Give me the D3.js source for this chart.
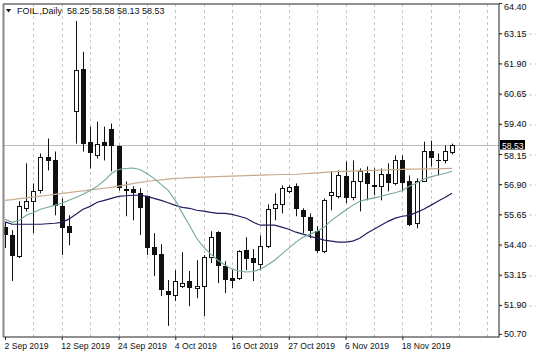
<!DOCTYPE html>
<html><head><meta charset="utf-8">
<script src="https://cdn.jsdelivr.net/npm/d3@7"></script>
<style>
html,body{margin:0;padding:0;background:#fff;overflow:hidden}
svg{display:block}
text{font-family:"Liberation Sans",Arial,sans-serif}
</style>
</head><body>
<svg id="chart" width="536" height="358"></svg>
<script>
// ---- data ----
const symbolTitle = "FOIL.,Daily";
const lastBarText = "58.25 58.58 58.13 58.53";
const lastPrice = 58.53;

const open = [55.12,54.79,53.92,55.90,56.19,56.64,58.04,57.88,55.98,55.16,59.94,61.68,58.66,58.09,58.66,59.20,58.46,56.68,56.68,56.52,56.39,54.29,54.00,52.47,52.31,52.68,52.89,52.60,52.68,53.88,54.91,53.51,53.01,53.01,54.16,53.84,53.59,54.33,55.90,56.06,56.60,56.81,55.82,55.53,54.95,54.12,56.44,56.39,57.22,56.35,57.05,57.38,56.85,56.81,57.34,56.93,57.92,57.01,55.28,57.05,58.29,57.88,57.88,58.25];
const high = [55.32,54.99,56.19,57.76,56.93,58.17,58.79,58.25,56.31,55.61,63.66,62.38,59.28,59.49,59.28,59.41,58.50,57.01,56.81,56.73,56.43,54.87,54.41,52.93,53.34,54.08,53.30,53.75,53.96,54.95,54.95,53.71,53.34,54.16,54.70,54.21,54.78,56.06,56.52,56.85,56.85,56.93,55.90,55.69,55.16,56.31,57.43,57.47,57.84,57.88,57.55,57.63,57.55,57.55,57.76,58.09,58.09,57.26,57.14,58.66,58.70,58.17,58.50,58.58];
const low = [54.25,52.89,53.84,55.77,54.87,56.52,57.47,55.61,53.96,54.37,58.58,58.25,57.55,57.96,57.88,57.43,56.64,55.57,55.40,54.79,53.96,53.09,52.27,51.03,52.06,52.60,51.85,52.18,51.44,53.63,52.80,52.39,52.60,52.93,53.34,52.89,53.34,54.25,55.40,55.69,56.52,55.57,54.87,54.66,54.04,54.04,55.82,56.31,56.11,56.23,55.77,56.23,56.44,56.23,56.60,56.85,56.60,55.16,55.07,57.01,57.63,57.26,57.76,58.13];
const close = [54.79,53.92,55.98,56.19,56.60,58.04,57.84,55.98,55.07,54.87,61.61,58.58,58.17,58.58,58.50,58.50,56.72,56.60,56.52,55.90,54.25,53.96,52.52,52.31,52.89,52.80,52.60,52.68,53.88,54.70,53.51,52.93,52.89,54.12,53.79,53.63,54.33,55.86,56.06,56.72,56.77,55.86,55.53,54.95,54.12,56.23,56.56,57.26,56.31,57.05,57.43,56.89,56.77,57.34,56.93,57.88,56.93,55.20,57.05,58.29,58.00,57.84,58.29,58.53];

// moving averages (values per bar)
const maSlow = [56.23,56.26,56.30,56.33,56.37,56.40,56.44,56.48,56.52,56.55,56.59,56.62,56.66,56.69,56.73,56.77,56.82,56.87,56.92,56.97,57.01,57.05,57.08,57.11,57.14,57.15,57.17,57.18,57.19,57.20,57.21,57.22,57.23,57.24,57.25,57.26,57.27,57.28,57.29,57.30,57.30,57.31,57.33,57.35,57.37,57.39,57.41,57.43,57.43,57.44,57.45,57.46,57.47,57.48,57.49,57.50,57.51,57.52,57.52,57.53,57.53,57.54,57.54,57.55];
const maMid = [55.34,55.24,55.24,55.24,55.24,55.24,55.26,55.28,55.32,55.45,55.65,55.86,55.98,56.15,56.23,56.31,56.39,56.42,56.44,56.44,56.39,56.31,56.23,56.13,56.02,55.94,55.90,55.82,55.78,55.73,55.69,55.69,55.65,55.57,55.49,55.32,55.20,55.20,55.20,55.12,55.03,54.91,54.83,54.74,54.66,54.58,54.54,54.50,54.50,54.54,54.66,54.87,55.03,55.20,55.36,55.49,55.57,55.61,55.73,55.86,56.02,56.19,56.35,56.52];
const maFast = [55.45,55.32,55.40,55.61,55.73,55.86,55.94,56.02,56.11,56.23,56.35,56.48,56.64,56.81,57.05,57.34,57.51,57.55,57.57,57.51,57.34,57.14,56.89,56.64,56.23,55.69,55.20,54.66,54.29,54.00,53.75,53.55,53.38,53.30,53.26,53.28,53.38,53.55,53.75,54.00,54.25,54.50,54.70,54.83,54.95,55.12,55.40,55.61,55.82,56.02,56.19,56.27,56.33,56.39,56.48,56.54,56.64,56.81,56.95,57.10,57.20,57.28,57.34,57.43];

const yTicks = [64.40,63.15,61.90,60.65,59.40,58.15,56.90,55.65,54.40,53.15,51.90,50.70];
const xTickBars = [0,8,16,24,32,40,48,56];
const xTickLabels = ["2 Sep 2019","12 Sep 2019","24 Sep 2019","4 Oct 2019","16 Oct 2019","27 Oct 2019","6 Nov 2019","18 Nov 2019"];
const gridBars = [0,4,8,12,16,20,24,28,32,36,40,44,48,52,56,60,64,68];

// ---- layout ----
const L = 3.5, R = 499, T = 4, B = 337;
const svg = d3.select("#chart");
const bars = open.map((o, i) => ({i, o, h: high[i], l: low[i], c: close[i]}));

const x = d3.scaleLinear().domain([0, 63]).range([5, 452]);
const y = d3.scaleLinear().domain([50.57, 64.36]).range([B, T]);

svg.append("defs").append("clipPath").attr("id", "clip")
  .append("rect").attr("x", L).attr("y", T).attr("width", R - L).attr("height", B - T);

// grid
const gridColor = "#c8c8c8";
const gx = svg.append("g").attr("transform", `translate(0,${B})`)
  .call(d3.axisBottom(x).tickValues(gridBars).tickSize(-(B - T)).tickFormat(""));
gx.select(".domain").remove();
gx.selectAll("line").attr("stroke", gridColor).attr("stroke-dasharray", "3,3")
  .attr("transform", d => `translate(${Math.round(x(d)) - x(d)},0)`);
gx.selectAll(".tick").filter(d => x(d) > R - 2 || x(d) < L + 2).remove();

const gy = svg.append("g").attr("transform", `translate(${R},0)`)
  .call(d3.axisLeft(y).tickValues(yTicks.slice(1, -1)).tickSize(-(R - L)).tickFormat(""));
gy.select(".domain").remove();
gy.selectAll("line").attr("stroke", gridColor).attr("stroke-dasharray", "3,3")
  .attr("transform", d => `translate(0,${Math.round(y(d)) + 0.5 - y(d)})`);

// current price line
const py = Math.round(y(lastPrice)) + 0.5;
svg.append("line").attr("x1", L).attr("x2", R).attr("y1", py).attr("y2", py)
  .attr("stroke", "#bdbdbd").attr("stroke-width", 1);

const plot = svg.append("g").attr("clip-path", "url(#clip)");

// candles
const cg = plot.append("g");
cg.selectAll("line.wick").data(bars).join("line")
  .attr("class", "wick")
  .attr("x1", d => Math.round(x(d.i)) + 0.5).attr("x2", d => Math.round(x(d.i)) + 0.5)
  .attr("y1", d => y(d.h)).attr("y2", d => y(d.l))
  .attr("stroke", "#111").attr("stroke-width", 1);

cg.selectAll("rect.body").data(bars).join("rect")
  .attr("class", "body")
  .each(function(d) {
    const rx = Math.round(x(d.i));
    const top = y(Math.max(d.o, d.c)), bot = y(Math.min(d.o, d.c));
    const s = d3.select(this);
    if (d.c >= d.o) {
      const t = Math.round(top) + 0.5;
      const hgt = Math.max(1, Math.round(bot) - Math.round(top));
      s.attr("x", rx - 1.5).attr("width", 4).attr("y", t).attr("height", hgt)
        .attr("fill", "#fff").attr("stroke", "#111").attr("stroke-width", 1);
    } else {
      const t = Math.round(top);
      const hgt = Math.max(1, Math.round(bot) - t);
      s.attr("x", rx - 2).attr("width", 5).attr("y", t).attr("height", hgt)
        .attr("fill", "#111");
    }
  });

// moving averages
const line = arr => d3.line().x((d, i) => x(i)).y(d => y(d))(arr);
plot.append("path").attr("d", line(maSlow)).attr("fill", "none").attr("stroke", "#c8ab8e").attr("stroke-width", 1.2);
plot.append("path").attr("d", line(maMid)).attr("fill", "none").attr("stroke", "#1e1e5e").attr("stroke-width", 1.2);
plot.append("path").attr("d", line(maFast)).attr("fill", "none").attr("stroke", "#73a99c").attr("stroke-width", 1.1);

// frame
svg.append("rect").attr("x", L).attr("y", T).attr("width", R - L).attr("height", B - T)
  .attr("fill", "none").attr("stroke", "#222").attr("stroke-width", 1);
svg.append("line").attr("x1", L).attr("x2", L).attr("y1", T).attr("y2", B)
  .attr("stroke", "#8a8a8a").attr("stroke-width", 2);

// right price axis
const ay = svg.append("g").attr("transform", `translate(${R},0)`)
  .call(d3.axisRight(y).tickValues(yTicks).tickSize(3).tickPadding(2).tickFormat(d3.format(".2f")));
ay.select(".domain").remove();
ay.selectAll("line").attr("stroke", "#222");
ay.selectAll("text").attr("font-size", "9px").attr("fill", "#111")
  .attr("font-family", '"Liberation Sans",Arial,sans-serif');
ay.selectAll(".tick").filter(d => d === 64.40).select("text").attr("dy", "0.75em").attr("y", 0);
ay.selectAll(".tick").filter(d => d === 58.15).select("text").attr("dy", "0.5em");

// current price label
svg.append("rect").attr("x", R + 1).attr("y", py - 5.5).attr("width", 25).attr("height", 9.5).attr("fill", "#000");
svg.append("text").attr("x", R + 3).attr("y", py + 3).attr("font-size", "8.6px").attr("fill", "#fff")
  .text(d3.format(".2f")(lastPrice));

// bottom time axis
const ax = svg.append("g").attr("transform", `translate(0,${B})`)
  .call(d3.axisBottom(x).tickValues(xTickBars).tickSize(3).tickPadding(3)
    .tickFormat(d => xTickLabels[xTickBars.indexOf(d)]));
ax.select(".domain").remove();
ax.selectAll("line").attr("stroke", "#222");
ax.selectAll("text").attr("text-anchor", "start").attr("dx", "-1").attr("font-size", "8.6px").attr("fill", "#111")
  .attr("font-family", '"Liberation Sans",Arial,sans-serif');

// title
svg.append("path").attr("d", "M6,9 L11,9 L8.5,12.5 Z").attr("fill", "#111");
svg.append("text").attr("x", 17).attr("y", 14).attr("font-size", "9px").attr("fill", "#111")
  .text(symbolTitle + "  " + lastBarText).attr("xml:space", "preserve").style("white-space", "pre");
</script>
</body></html>
